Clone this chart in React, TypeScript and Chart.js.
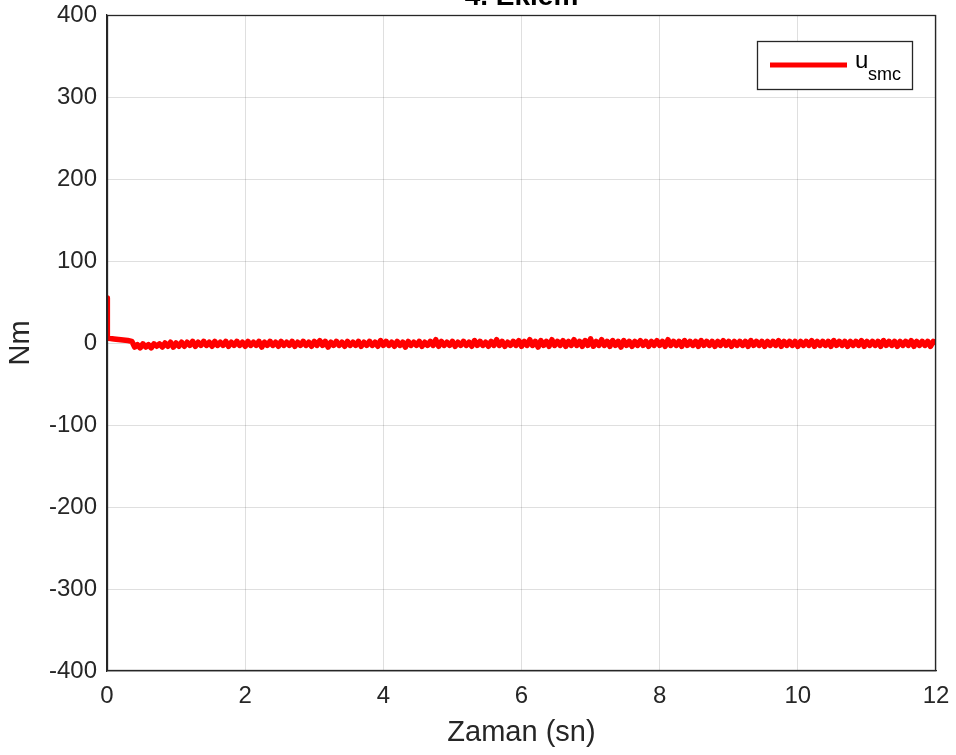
import React, { useEffect, useRef } from "react";
import { Chart, registerables } from "chart.js";

Chart.register(...registerables);

const titleText = "4. Eklem";
const xTitle = "Zaman (sn)";
const yTitle = "Nm";
const legendMain = "u";
const legendSub = "smc";

const xTicks = [0, 2, 4, 6, 8, 10, 12];
const yTicks = [-400, -300, -200, -100, 0, 100, 200, 300, 400];

// initial transient
const tStart = [0, 0.005, 0.1, 0.2, 0.3, 0.36];
const uStart = [55, 6, 5, 4, 3, 2];

// chattering part, sampled every 0.04 s from 0.40 s
const noiseStartTime = 0.4;
const noiseStep = 0.04;
const uNoise = [
  -5, -2, -6, -1, -5, -2, -6, -1, -4, -1, -5, 0, -4, 1, -5, 0, -4, 1, -4, 1,
  -3, 2, -4, 1, -3, 2, -3, 1, -4, 2, -3, 1, -3, 2, -4, 1, -3, 2, -3, 1,
  -4, 2, -3, 1, -3, 2, -5, 1, -3, 2, -3, 1, -4, 2, -3, 1, -3, 2, -4, 1,
  -3, 2, -3, 1, -4, 2, -3, 3, -3, 2, -5, 1, -3, 2, -3, 1, -4, 2, -3, 1,
  -3, 2, -4, 1, -3, 2, -3, 1, -4, 3, -3, 2, -3, 1, -4, 2, -3, 1, -5, 2,
  -3, 1, -3, 2, -4, 1, -3, 2, -3, 4, -4, 2, -3, 1, -3, 2, -4, 1, -3, 2,
  -3, 1, -4, 3, -3, 2, -3, 1, -4, 2, -3, 4, -3, 2, -4, 1, -3, 2, -3, 3,
  -4, 2, -3, 4, -3, 2, -5, 3, -3, 2, -4, 4, -3, 2, -3, 3, -4, 2, -3, 4,
  -3, 2, -4, 3, -3, 5, -4, 2, -3, 4, -3, 2, -4, 3, -3, 2, -5, 3, -3, 2,
  -4, 2, -3, 3, -3, 2, -4, 2, -3, 3, -3, 2, -4, 4, -3, 2, -3, 2, -4, 3,
  -3, 2, -3, 2, -4, 3, -3, 2, -3, 2, -4, 2, -3, 3, -3, 2, -4, 2, -3, 2,
  -3, 2, -4, 3, -3, 2, -3, 2, -4, 2, -3, 2, -3, 3, -4, 2, -3, 2, -3, 2,
  -4, 2, -3, 2, -3, 3, -4, 2, -3, 2, -3, 2, -4, 3, -3, 2, -3, 2, -4, 2,
  -3, 2, -3, 3, -4, 2, -3, 2, -3, 2, -4, 3, -3, 2, -3, 2, -4, 2, -3, 2,
  -3, 3, -4, 2, -3, 2, -3, 2, -4, 2, 0,
];

const FONT = "'Liberation Sans', Arial, Helvetica, sans-serif";
const AXIS_COLOR = "#262626";
const GRID_COLOR = "rgba(38,38,38,0.15)";
const LINE_COLOR = "#ff0000";

function buildPoints() {
  const pts: { x: number; y: number }[] = [];
  tStart.forEach((t, i) => pts.push({ x: t, y: uStart[i] }));
  uNoise.forEach((v, i) =>
    pts.push({ x: +(noiseStartTime + i * noiseStep).toFixed(3), y: v })
  );
  return pts;
}

const framePlugin = {
  id: "frameLegendTitle",
  afterDraw(chart: any) {
    const { ctx, chartArea } = chart;
    const { left, right, top, bottom } = chartArea;
    ctx.save();
    // axes box
    ctx.strokeStyle = AXIS_COLOR;
    ctx.lineWidth = 1.3;
    ctx.strokeRect(left + 0.5, top + 0.5, right - left - 1, bottom - top - 1);

    // title (cut off at top)
    ctx.fillStyle = "#000000";
    ctx.font = `bold 28px ${FONT}`;
    ctx.textAlign = "center";
    ctx.textBaseline = "alphabetic";
    ctx.fillText(titleText, (left + right) / 2, 5);

    // legend
    const lx = 757, ly = 41, lw = 155, lh = 48;
    ctx.fillStyle = "#ffffff";
    ctx.fillRect(lx, ly, lw, lh);
    ctx.strokeStyle = AXIS_COLOR;
    ctx.lineWidth = 1.3;
    ctx.strokeRect(lx + 0.5, ly + 0.5, lw, lh);
    ctx.strokeStyle = LINE_COLOR;
    ctx.lineWidth = 5;
    ctx.beginPath();
    ctx.moveTo(770, 65);
    ctx.lineTo(847, 65);
    ctx.stroke();
    ctx.fillStyle = "#000000";
    ctx.textAlign = "left";
    ctx.font = `24px ${FONT}`;
    ctx.fillText(legendMain, 855, 68);
    ctx.font = `18px ${FONT}`;
    ctx.fillText(legendSub, 868, 80);
    ctx.restore();
  },
};

export default function App() {
  const ref = useRef<HTMLCanvasElement | null>(null);

  useEffect(() => {
    if (!ref.current) return;
    const chart = new Chart(ref.current, {
      type: "line",
      data: {
        datasets: [
          {
            label: legendMain + legendSub,
            data: buildPoints(),
            borderColor: LINE_COLOR,
            borderWidth: 5.5,
            borderJoinStyle: "round",
            pointRadius: 0,
            tension: 0,
            fill: false,
          },
        ],
      },
      options: {
        animation: false,
        responsive: false,
        maintainAspectRatio: false,
        layout: { padding: { top: 15, right: 20, left: 0, bottom: 0 } },
        plugins: {
          legend: { display: false },
          tooltip: { enabled: false },
          title: { display: false },
        },
        scales: {
          x: {
            type: "linear",
            min: 0,
            max: 12,
            afterBuildTicks: (scale: any) => {
              scale.ticks = xTicks.map((v) => ({ value: v }));
            },
            afterFit: (scale: any) => {
              scale.height = 84;
              scale.paddingLeft = 0;
              scale.paddingRight = 0;
            },
            ticks: {
              color: AXIS_COLOR,
              font: { family: FONT, size: 24 },
              padding: 11,
              maxRotation: 0,
            },
            grid: { color: GRID_COLOR, drawTicks: false, lineWidth: 1 },
            border: { color: AXIS_COLOR, width: 1.3 },
            title: {
              display: true,
              text: xTitle,
              color: AXIS_COLOR,
              font: { family: FONT, size: 29 },
              padding: { top: 0, bottom: 5 },
            },
          },
          y: {
            type: "linear",
            min: -400,
            max: 400,
            afterBuildTicks: (scale: any) => {
              scale.ticks = yTicks.map((v) => ({ value: v }));
            },
            afterFit: (scale: any) => {
              scale.width = 107;
              scale.paddingTop = 0;
              scale.paddingBottom = 0;
            },
            ticks: {
              color: AXIS_COLOR,
              font: { family: FONT, size: 24 },
              padding: 10,
            },
            grid: { color: GRID_COLOR, drawTicks: false, lineWidth: 1 },
            border: { color: AXIS_COLOR, width: 1.3 },
            title: {
              display: true,
              text: yTitle,
              color: AXIS_COLOR,
              font: { family: FONT, size: 29 },
              padding: { top: 4, bottom: 0 },
            },
          },
        },
      },
      plugins: [framePlugin],
    } as any);
    return () => chart.destroy();
  }, []);

  return (
    <div
      style={{
        position: "fixed",
        left: 0,
        top: 0,
        width: 956,
        height: 755,
        background: "#ffffff",
      }}
    >
      <canvas ref={ref} width={956} height={755} />
    </div>
  );
}
